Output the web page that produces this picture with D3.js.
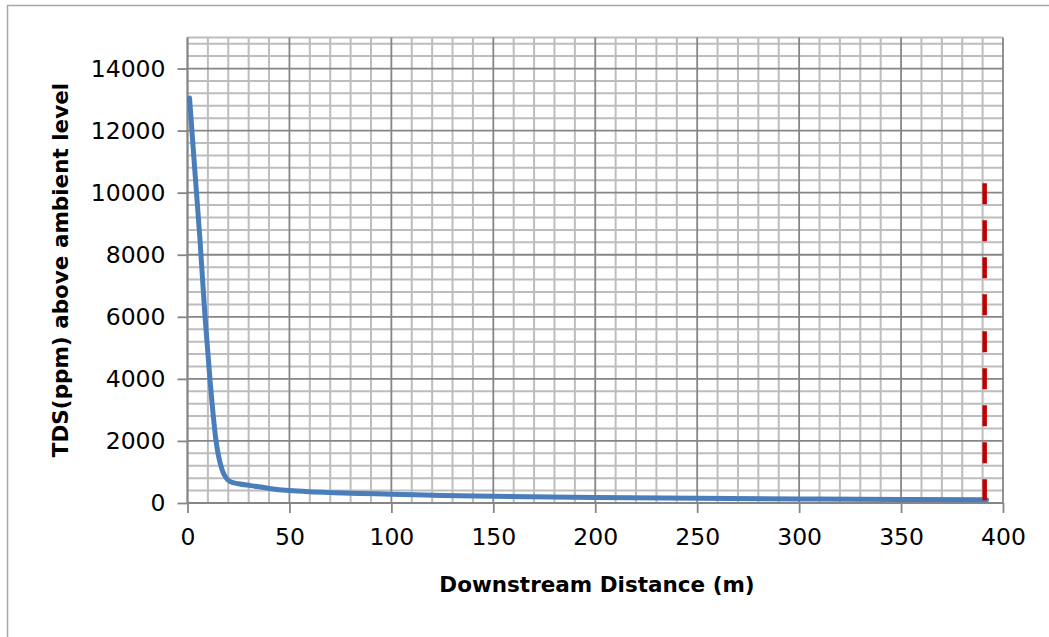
<!DOCTYPE html>
<html><head><meta charset="utf-8">
<script src="https://cdn.jsdelivr.net/npm/d3@7"></script>
<style>
html,body{margin:0;padding:0;background:#fff;}
svg{display:block;}
</style></head>
<body>
<svg id="chart" width="1049" height="637"></svg>
<script>
// Data
const distance = [1, 3.5, 6, 8.6, 11, 14, 17, 19, 21, 25, 31, 40, 50, 60, 72, 85, 100, 125, 150, 200, 250, 300, 350, 392];
const tds      = [13050, 10800, 8600, 6000, 4000, 2000, 1060, 800, 690, 620, 560, 470, 400, 360, 330, 305, 285, 240, 215, 180, 150, 130, 115, 105];
const xTicks = [0, 50, 100, 150, 200, 250, 300, 350, 400];
const yTicks = [0, 2000, 4000, 6000, 8000, 10000, 12000, 14000];
const limitX = [391, 391];
const limitY = [0, 10300];
const xLabel = "Downstream Distance (m)";
const yLabel = "TDS(ppm) above ambient level";

const svg = d3.select("#chart");
const x = d3.scaleLinear().domain([0, 400]).range([187.5, 1003]);
const y = d3.scaleLinear().domain([0, 15000]).range([503, 37.5]);

// outer frame (top and left visible)
svg.append("path").attr("d", "M7.5,637 V5.5 H1049").attr("fill", "none").attr("stroke", "#a6a6a6").attr("stroke-width", 1.5);

const g = svg.append("g");
// minor grid
const xMinor = d3.range(0, 401, 10).filter(v => v % 50 !== 0);
const yMinor = d3.range(0, 15001, 400).filter(v => v % 2000 !== 0).concat([15000]);
g.selectAll(".vx").data(xMinor).join("line")
  .attr("x1", d => x(d)).attr("x2", d => x(d)).attr("y1", y(15000)).attr("y2", y(0))
  .attr("stroke", "#bdbdbd").attr("stroke-width", 2);
g.selectAll(".hy").data(yMinor).join("line")
  .attr("x1", x(0)).attr("x2", x(400)).attr("y1", d => y(d)).attr("y2", d => y(d))
  .attr("stroke", "#bdbdbd").attr("stroke-width", 2);
// major grid
g.selectAll(".vX").data(xTicks).join("line")
  .attr("x1", d => x(d)).attr("x2", d => x(d)).attr("y1", y(15000)).attr("y2", y(0))
  .attr("stroke", "#868686").attr("stroke-width", 1.8);
g.selectAll(".hY").data(yTicks).join("line")
  .attr("x1", x(0)).attr("x2", x(400)).attr("y1", d => y(d)).attr("y2", d => y(d))
  .attr("stroke", "#868686").attr("stroke-width", 1.8);

// axes
const fontFam = "'DejaVu Sans', sans-serif";
const xAxis = svg.append("g").attr("transform", `translate(0,${y(0)})`)
  .call(d3.axisBottom(x).tickValues(xTicks).tickSize(10).tickPadding(15).tickFormat(d3.format("d")));
const yAxis = svg.append("g").attr("transform", `translate(${x(0)},0)`)
  .call(d3.axisLeft(y).tickValues(yTicks).tickSize(10).tickPadding(12).tickFormat(d3.format("d")));
[xAxis, yAxis].forEach(a => {
  a.select(".domain").attr("stroke", "#868686").attr("stroke-width", 1.8);
  a.selectAll(".tick line").attr("stroke", "#868686").attr("stroke-width", 1.8);
  a.selectAll(".tick text").attr("fill", "#000").style("font-family", fontFam).style("font-size", "23.5px");
});
yAxis.select(".domain").attr("d", `M0,${y(15000)}V${y(0)}`);
xAxis.select(".domain").attr("d", `M${x(0)},0H${x(400)}`);

// data line
const line = d3.line().x((d, i) => x(distance[i])).y(d => y(d)).curve(d3.curveMonotoneX);
svg.append("path").datum(tds).attr("d", line)
  .attr("fill", "none").attr("stroke", "#4a7ebb").attr("stroke-width", 5)
  .attr("stroke-linejoin", "round").attr("stroke-linecap", "round");

// limit dashed line
svg.append("line")
  .attr("x1", x(limitX[0])).attr("x2", x(limitX[1]))
  .attr("y1", y(limitY[1])).attr("y2", y(limitY[0]))
  .attr("stroke", "#c00000").attr("stroke-width", 4.5).attr("stroke-dasharray", "21,16");

// labels
svg.append("text").attr("x", 597).attr("y", 592).attr("text-anchor", "middle")
  .style("font-family", fontFam).style("font-weight", "bold").style("font-size", "21.5px")
  .attr("fill", "#000").text(xLabel);
svg.append("text").attr("transform", "translate(68,270) rotate(-90)").attr("text-anchor", "middle")
  .style("font-family", fontFam).style("font-weight", "bold").style("font-size", "21.5px")
  .attr("fill", "#000").text(yLabel);
</script>
</body></html>
